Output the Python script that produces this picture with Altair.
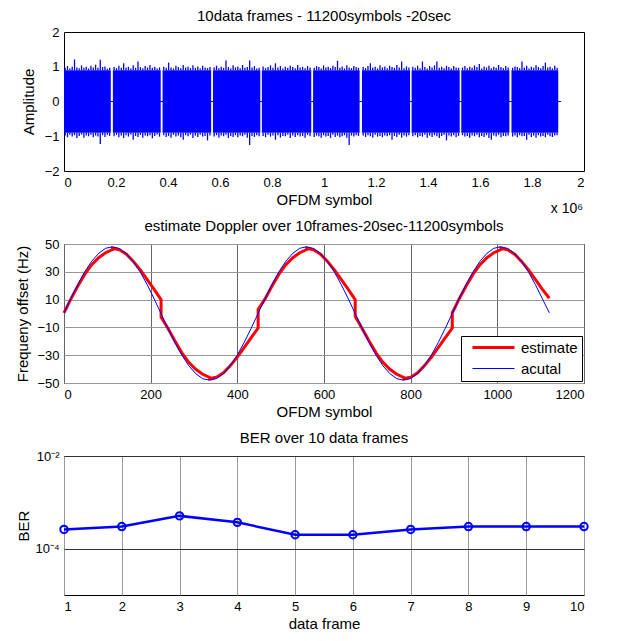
import altair as alt
import pandas as pd

FONT = "Liberation Sans"
W, H = 520, 139

# ---------------- Panel 1: received signal (10 data frames) ----------------
frame_start = [0.0, 0.188, 0.379, 0.573, 0.761, 0.958, 1.146, 1.337, 1.528, 1.721]   # x 1e6
frame_end = [0.180, 0.372, 0.566, 0.755, 0.951, 1.137, 1.331, 1.522, 1.713, 1.901]   # x 1e6
signal_end = 1.912
core_level = 0.9
upper_peaks = [
    [0.97, 1.02, 0.95, 1.00, 1.21, 0.98, 0.96, 1.04, 0.97, 1.00, 0.95, 1.03, 0.98, 1.06, 0.97, 1.20, 0.99, 1.01, 0.94, 0.97],
    [0.99, 0.96, 1.03, 0.97, 1.10, 0.98, 1.00, 0.95, 1.04, 0.97, 1.15, 0.99, 0.96, 1.02, 0.98, 1.05, 0.97, 1.00, 0.95, 0.98],
    [1.00, 0.97, 1.12, 0.98, 0.95, 1.03, 0.99, 0.96, 1.05, 0.98, 1.00, 0.96, 1.04, 0.97, 1.01, 0.95, 1.03, 0.98, 0.96, 0.99],
    [0.98, 1.03, 0.96, 1.00, 0.97, 1.18, 0.99, 0.95, 1.04, 0.98, 1.01, 0.96, 1.05, 0.97, 0.99, 1.18, 0.98, 1.02, 0.95, 0.97],
    [1.01, 0.96, 0.99, 1.04, 0.97, 1.10, 0.98, 1.02, 0.95, 1.00, 0.97, 1.03, 0.99, 0.96, 1.05, 0.98, 1.00, 0.96, 1.02, 0.98],
    [0.97, 1.02, 0.99, 0.95, 1.04, 0.98, 1.00, 0.96, 1.03, 0.99, 1.17, 0.97, 1.01, 0.95, 1.04, 0.98, 0.96, 1.02, 0.99, 0.97],
    [0.99, 0.96, 1.02, 1.10, 0.97, 1.00, 0.95, 1.04, 0.98, 1.01, 0.96, 1.03, 0.99, 0.97, 1.05, 0.98, 1.15, 0.96, 1.01, 0.98],
    [1.00, 0.97, 1.03, 0.96, 1.15, 0.99, 0.95, 1.02, 0.98, 1.04, 1.15, 0.97, 1.00, 0.96, 1.03, 0.99, 0.95, 1.02, 0.98, 0.97],
    [0.98, 1.02, 0.96, 1.00, 0.97, 1.04, 0.99, 1.08, 0.95, 1.01, 0.98, 1.03, 0.96, 1.00, 0.97, 1.05, 0.99, 0.96, 1.02, 0.98],
    [0.97, 1.01, 0.99, 0.96, 1.15, 0.98, 1.03, 0.95, 1.00, 0.97, 1.04, 0.99, 0.96, 1.02, 1.12, 0.98, 1.00, 0.95, 1.03, 0.97],
]
lower_peaks = [
    [-0.98, -1.03, -0.96, -1.01, -0.97, -1.05, -0.99, -0.95, -1.04, -0.98, -1.00, -0.96, -1.03, -0.98, -1.01, -1.22, -0.97, -1.02, -0.96, -0.99],
    [-1.00, -0.96, -1.03, -0.98, -1.05, -0.97, -1.01, -0.95, -1.10, -0.99, -1.02, -0.96, -1.04, -0.98, -1.00, -0.97, -1.06, -0.99, -0.95, -1.01],
    [-0.97, -1.02, -0.99, -1.04, -0.96, -1.01, -0.98, -1.03, -1.10, -0.97, -1.00, -0.95, -1.05, -0.98, -1.02, -0.96, -1.01, -0.99, -1.12, -0.98],
    [-1.01, -0.97, -1.04, -0.98, -1.00, -0.96, -1.05, -0.99, -1.02, -0.97, -1.03, -0.98, -1.00, -0.96, -1.04, -1.25, -0.99, -1.02, -0.97, -1.00],
    [-0.99, -1.03, -0.96, -1.01, -0.98, -1.10, -0.97, -1.04, -0.99, -1.00, -0.96, -1.05, -0.98, -1.02, -0.97, -1.01, -0.99, -1.04, -0.96, -1.00],
    [-1.02, -0.98, -1.00, -1.04, -0.97, -1.01, -0.99, -1.05, -0.96, -1.02, -0.98, -1.03, -1.00, -0.97, -1.04, -1.25, -0.98, -1.01, -0.97, -0.99],
    [-0.98, -1.02, -0.97, -1.00, -1.04, -0.96, -1.01, -0.99, -1.03, -0.98, -1.00, -0.97, -1.10, -0.99, -1.02, -0.96, -1.04, -0.98, -1.01, -0.97],
    [-1.00, -0.97, -1.03, -0.99, -1.01, -0.96, -1.04, -0.98, -1.02, -0.97, -1.00, -1.05, -0.99, -0.96, -1.12, -0.98, -1.01, -0.97, -1.03, -0.99],
    [-0.97, -1.01, -0.99, -1.04, -0.98, -1.00, -0.96, -1.03, -0.99, -1.02, -0.97, -1.05, -1.10, -0.98, -1.01, -0.96, -1.03, -0.99, -1.00, -0.98],
    [-1.01, -0.98, -1.03, -0.97, -1.00, -0.99, -1.10, -0.96, -1.02, -0.98, -1.04, -0.97, -1.01, -0.99, -1.03, -0.96, -1.00, -1.02, -0.98, -0.97],
]
p1_xticks = [0, 0.2, 0.4, 0.6, 0.8, 1.0, 1.2, 1.4, 1.6, 1.8, 2.0]
p1_yticks = [-2, -1, 0, 1, 2]

# ---------------- Panel 2: Doppler estimate ----------------
actual_symbol = list(range(0, 1121, 16))
actual_hz = [0.5, 10.9, 21.0, 30.1, 37.6, 43.3, 46.9, 48.0, 46.8, 43.1, 37.4, 29.8, 20.7, 10.6,
             -0.1, -10.8, -20.9, -30.0, -37.6, -43.3, -46.9, -48.0, -46.8, -43.2, -37.4, -29.8, -20.7, -10.6,
             0.1, 10.8, 20.9, 30.0, 37.6, 43.3, 46.9, 48.0, 46.8, 43.1, 37.4, 29.8, 20.7, 10.6,
             -0.1, -10.8, -20.9, -30.0, -37.6, -43.3, -46.9, -48.0, -46.8, -43.2, -37.4, -29.8, -20.7, -10.6,
             0.1, 10.8, 20.9, 30.0, 37.6, 43.3, 46.9, 48.0, 46.8, 43.1, 37.4, 29.8, 20.7, 10.6, 0.5]
frame_len_sym = 112
est_offsets = [0, 16, 32, 48, 64, 80, 96, 112]
estimate_hz = [
    [0.5, 10.5, 19.8, 28.3, 35.1, 40.1, 43.7, 46.0],
    [47.0, 45.8, 42.6, 37.5, 31.3, 24.4, 17.4, 10.0],
    [-2.5, -10.8, -19.8, -28.3, -35.1, -40.1, -43.7, -46.0],
    [-46.8, -45.8, -42.6, -37.5, -31.3, -24.4, -17.4, -10.5],
    [3.0, 10.5, 19.8, 28.3, 35.1, 40.1, 43.7, 46.0],
    [47.0, 45.8, 42.6, 37.5, 31.3, 24.4, 17.4, 10.0],
    [-2.0, -10.8, -19.8, -28.3, -35.1, -40.1, -43.7, -46.0],
    [-46.8, -45.8, -42.6, -37.5, -31.3, -24.4, -17.4, -10.5],
    [0.5, 10.5, 19.8, 28.3, 35.1, 40.1, 43.7, 46.0],
    [47.0, 45.8, 42.6, 37.5, 31.3, 24.4, 17.4, 11.0],
]
p2_xticks = [0, 200, 400, 600, 800, 1000, 1200]
p2_yticks = [-50, -30, -10, 10, 30, 50]
series_names = ["estimate", "acutal"]
series_colors = ["#ff0000", "#0000ff"]
series_widths = [3, 1]

# ---------------- Panel 3: BER ----------------
frames = [1, 2, 3, 4, 5, 6, 7, 8, 9, 10]
ber = [2.6e-4, 3.0e-4, 5.1e-4, 3.7e-4, 2.0e-4, 2.0e-4, 2.6e-4, 3.0e-4, 3.0e-4, 3.0e-4]

# ======================================================================
core_rows = [{"x0": frame_start[k] * 1e6, "x1": frame_end[k] * 1e6,
              "lo": -core_level, "hi": core_level} for k in range(len(frame_start))]
spike_rows = []
for k in range(len(frame_start)):
    s, e = frame_start[k], frame_end[k]
    n = len(upper_peaks[k])
    for i in range(n):
        xc = (s + (i + 0.5) * (e - s) / n) * 1e6
        spike_rows.append({"x": xc, "a": core_level, "b": upper_peaks[k][i]})
        spike_rows.append({"x": xc, "a": -core_level, "b": lower_peaks[k][i]})
zero_rows = [{"x": 0, "y": 0}, {"x": signal_end * 1e6, "y": 0}]

x1_scale = alt.Scale(domain=[0, 2e6], nice=False)
y1_scale = alt.Scale(domain=[-2, 2], nice=False)
x1_axis = alt.Axis(values=[v * 1e6 for v in p1_xticks], labelExpr="format(datum.value/1e6, '~g')",
                   title="OFDM symbol", grid=False, labelOverlap=False)
y1_axis = alt.Axis(values=p1_yticks, title="Amplitude", grid=False, titlePadding=8, labelOverlap=False)

core = alt.Chart(pd.DataFrame(core_rows)).mark_rect(color="#0000ff").encode(
    x=alt.X("x0:Q", scale=x1_scale, axis=x1_axis),
    x2="x1:Q",
    y=alt.Y("lo:Q", scale=y1_scale, axis=y1_axis),
    y2="hi:Q",
)
spikes = alt.Chart(pd.DataFrame(spike_rows)).mark_rule(color="#0000ff", strokeWidth=1.3).encode(
    x=alt.X("x:Q", scale=x1_scale, axis=x1_axis), y=alt.Y("a:Q", scale=y1_scale, axis=y1_axis), y2="b:Q")
zero = alt.Chart(pd.DataFrame(zero_rows)).mark_line(color="#0000ff", strokeWidth=1).encode(
    x=alt.X("x:Q", scale=x1_scale, axis=x1_axis), y=alt.Y("y:Q", scale=y1_scale, axis=y1_axis))
exp_note = alt.Chart(pd.DataFrame([{"t": "x 10\u2076"}])).mark_text(
    align="right", baseline="middle", fontSize=14, font=FONT, color="black", clip=False
).encode(x=alt.value(519), y=alt.value(177), text="t:N")

panel1 = alt.layer(core, spikes, zero, exp_note).properties(
    width=W, height=H, title=alt.TitleParams("10data frames - 11200symbols -20sec", offset=2))

# panel 2
est_rows = []
idx = 0
for k, vals in enumerate(estimate_hz):
    for off, v in zip(est_offsets, vals):
        est_rows.append({"symbol": k * frame_len_sym + off, "hz": v, "series": "estimate", "idx": idx})
        idx += 1
act_rows = [{"symbol": s, "hz": v, "series": "acutal", "idx": i}
            for i, (s, v) in enumerate(zip(actual_symbol, actual_hz))]

x2_scale = alt.Scale(domain=[0, 1200], nice=False)
y2_scale = alt.Scale(domain=[-50, 50], nice=False)
x2_axis = alt.Axis(values=p2_xticks, format="d", title="OFDM symbol", grid=True,
                   gridColor="#666666", labelOverlap=False)
y2_axis = alt.Axis(values=p2_yticks, format="d", title="Frequeny offset (Hz)", grid=True,
                   gridColor="#999999", titlePadding=6, labelOverlap=False)
leg = alt.Legend(orient="bottom-right", title=None,
                 labelExpr="datum.label + '\u00a0\u00a0\u00a0'",
                 symbolStrokeWidth=alt.ExprRef(expr="datum.value === 'estimate' ? 3 : 1"),
                 symbolStrokeColor=alt.ExprRef(expr="datum.value === 'estimate' ? '#ff0000' : '#0000ff'"))
color_enc = alt.Color("series:N", scale=alt.Scale(domain=series_names, range=series_colors), legend=leg)
sw_enc = alt.StrokeWidth("series:N", scale=alt.Scale(type="ordinal", domain=series_names, range=series_widths),
                         legend=None)

est_line = alt.Chart(pd.DataFrame(est_rows)).mark_line().encode(
    x=alt.X("symbol:Q", scale=x2_scale, axis=x2_axis),
    y=alt.Y("hz:Q", scale=y2_scale, axis=y2_axis),
    color=color_enc, strokeWidth=sw_enc, order="idx:Q")
act_line = alt.Chart(pd.DataFrame(act_rows)).mark_line().encode(
    x=alt.X("symbol:Q", scale=x2_scale, axis=x2_axis),
    y=alt.Y("hz:Q", scale=y2_scale, axis=y2_axis),
    color=color_enc, strokeWidth=sw_enc, order="idx:Q")

panel2 = alt.layer(est_line, act_line).properties(
    width=W, height=H, title="estimate Doppler over 10frames-20sec-11200symbols")

# panel 3
ber_df = pd.DataFrame({"frame": frames, "ber": ber})
x3 = alt.X("frame:Q", scale=alt.Scale(domain=[1, 10], nice=False),
           axis=alt.Axis(values=frames, format="d", title="data frame", grid=True,
                         gridColor="#999999", labelOverlap=False))
y3 = alt.Y("ber:Q", scale=alt.Scale(type="log", domain=[1e-5, 1e-2], nice=False),
           axis=alt.Axis(values=[1e-4, 1e-2], title="BER", grid=True, gridColor="#333333",
                         labelExpr="datum.value > 0.005 ? '10\u207b\u00b2' : '10\u207b\u2074'",
                         titlePadding=3, labelOverlap=False))
ber_line = alt.Chart(ber_df).mark_line(color="#0000ff", strokeWidth=2.5).encode(x=x3, y=y3)
ber_pts = alt.Chart(ber_df).mark_point(shape="circle", filled=False, color="#0000ff",
                                       size=55, strokeWidth=2, opacity=1).encode(x=x3, y=y3)
panel3 = alt.layer(ber_line, ber_pts).properties(width=W, height=H, title="BER over 10 data frames")

chart = alt.vconcat(panel1, panel2, panel3, spacing=73, bounds="flush").resolve_scale(
    color="independent", strokeWidth="independent"
).properties(
    padding={"left": 7, "top": 0, "right": 0, "bottom": 0}
).configure_view(
    stroke="black", strokeWidth=1
).configure_axis(
    domain=False, ticks=False, labelFont=FONT, titleFont=FONT, labelFontSize=13, titleFontSize=15,
    labelColor="black", titleColor="black", titleFontWeight="normal", labelPadding=5, titlePadding=3,
    gridOpacity=1, gridWidth=1, labelOverlap=False
).configure_title(
    font=FONT, fontSize=15, fontWeight="normal", color="black", offset=4, anchor="middle", frame="group"
).configure_legend(
    strokeColor="black", fillColor="white", padding=4, offset=2,
    symbolType="M-1,0H6.0", symbolSize=144, symbolOffset=6, labelOffset=35,
    labelFont=FONT, labelFontSize=15, labelColor="black", rowPadding=5, cornerRadius=0
)

chart.save("out.html", embed_options={"renderer": "svg", "actions": False})
